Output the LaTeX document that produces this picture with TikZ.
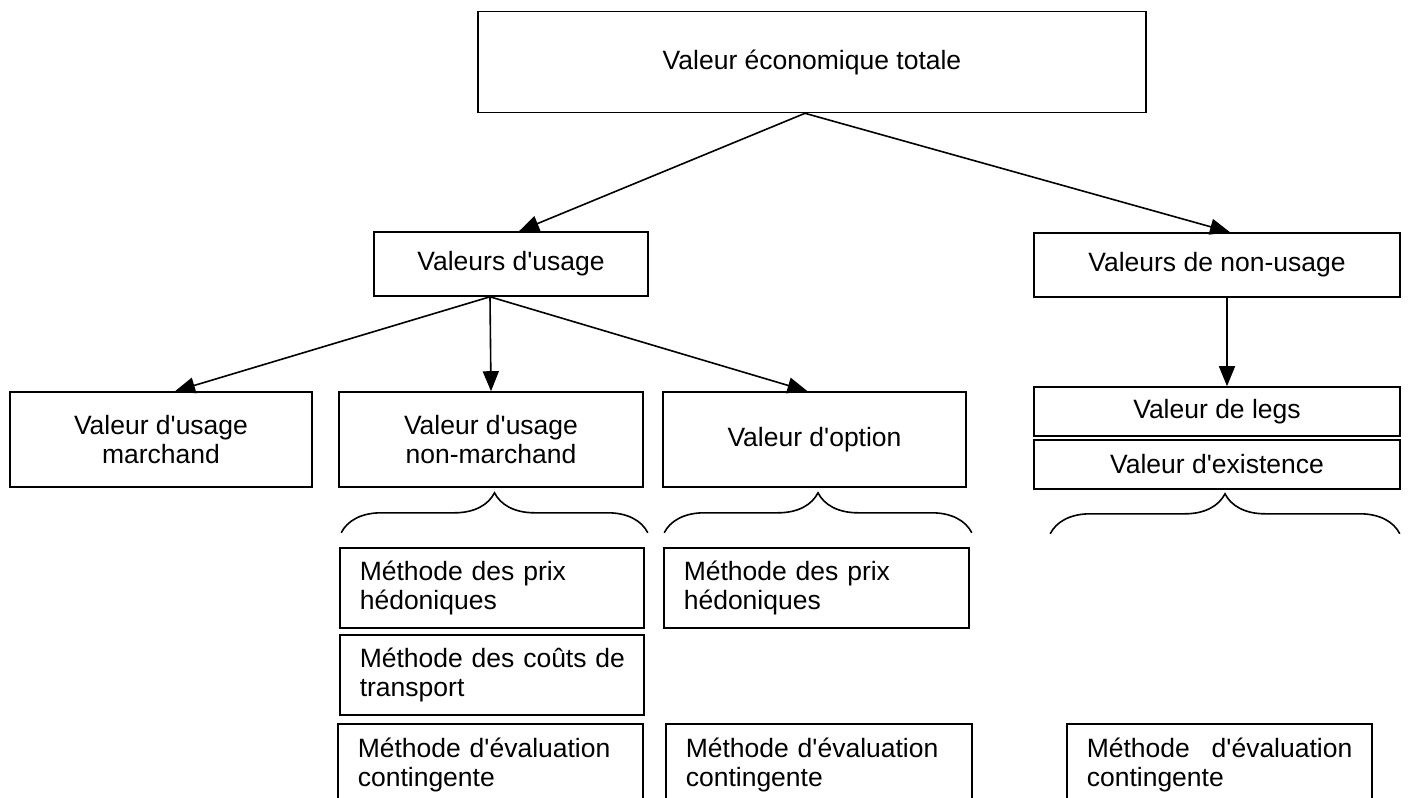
\documentclass[tikz,border=0pt]{standalone}
\usepackage{fontspec}
\setmainfont{Liberation Sans}
\usetikzlibrary{positioning, arrows.meta, decorations.pathreplacing}
\newcommand{\ap}{\textquotesingle}

\begin{document}
\begin{tikzpicture}[x=1pt, y=-1pt, font=\fontsize{26.5}{29}\selectfont,
  box/.style={draw, line width=1.6pt, inner sep=0pt, align=center},
  methbox/.style={draw, line width=1.6pt, anchor=north west, align=left, inner xsep=20pt, inner ysep=0pt},
  arr/.style={line width=1.6pt, -{Triangle[length=20pt, width=16pt]}},
  curly/.style={line width=1.6pt, decorate, decoration={brace, amplitude=40pt}}]
\useasboundingbox (0,0) rectangle (1417,798);
\clip (0,0) rectangle (1417,798);

\node[box, minimum width=668pt, minimum height=101pt] (vet) at (812, 62) {Valeur économique totale};
\node[box, minimum width=274pt, minimum height=64pt] (vu) at (511, 264) {Valeurs d\ap usage};
\node[box, minimum width=366pt, minimum height=64pt] (vnu) at (1217, 265) {Valeurs de non-usage};

\node[box, minimum width=302pt, minimum height=95pt] (vum) at (161, 439.5) {Valeur d\ap usage\\marchand};
\node[box, minimum width=304pt, minimum height=95pt] (vunm) at (491, 439.5) {Valeur d\ap usage\\non-marchand};
\node[box, minimum width=303pt, minimum height=95pt] (vo) at (814.5, 439.5) {Valeur d\ap option};
\node[box, minimum width=366pt, minimum height=49pt] (vl) at (1217, 411.5) {Valeur de legs};
\node[box, minimum width=366pt, minimum height=49pt] (ve) at (1217, 464.5) {Valeur d\ap existence};

\node[methbox, text width=264pt, minimum height=80pt] (nmprix) at (339, 547) {Méthode des prix\\hédoniques};
\node[methbox, text width=264pt, minimum height=80pt] (nmcout) at (339, 634) {\mbox{Méthode des coûts de}\\transport};
\node[methbox, text width=265pt, minimum height=82pt] (nmcont) at (337, 723) {\mbox{Méthode d\ap évaluation}\\contingente};
\node[methbox, text width=265pt, minimum height=80pt] (opprix) at (663, 547) {Méthode des prix\\hédoniques};
\node[methbox, text width=266pt, minimum height=82pt] (opcont) at (665, 723) {\mbox{Méthode d\ap évaluation}\\contingente};
\node[methbox, text width=265pt, minimum height=82pt] (nucont) at (1066, 723) {\mbox{Méthode\hspace{13pt} d\ap évaluation}\\contingente};

\coordinate (top) at ([xshift=-7pt]vet.south);
\coordinate (fork) at ([xshift=-21pt]vu.south);
\draw[arr] (top) -- ([xshift=8pt]vu.north);
\draw[arr] (top) -- ([xshift=13pt]vnu.north);
\draw[arr] (fork) -- ([xshift=14pt]vum.north);
\draw[arr] (fork) -- (vunm.north);
\draw[arr] (fork) -- ([xshift=-7pt]vo.north);
\draw[arr] ([xshift=10pt]vnu.south) -- ([xshift=10pt]vl.north);

\draw[curly] ([xshift=3pt, yshift=-45pt]vunm.south west) -- ([xshift=4pt, yshift=-45pt]vunm.south east);
\draw[curly] ([xshift=2pt, yshift=-45pt]vo.south west) -- ([xshift=5pt, yshift=-45pt]vo.south east);
\draw[curly] ([xshift=17pt, yshift=-44pt]ve.south west) -- ([xshift=-1pt, yshift=-44pt]ve.south east);
\end{tikzpicture}
\end{document}
